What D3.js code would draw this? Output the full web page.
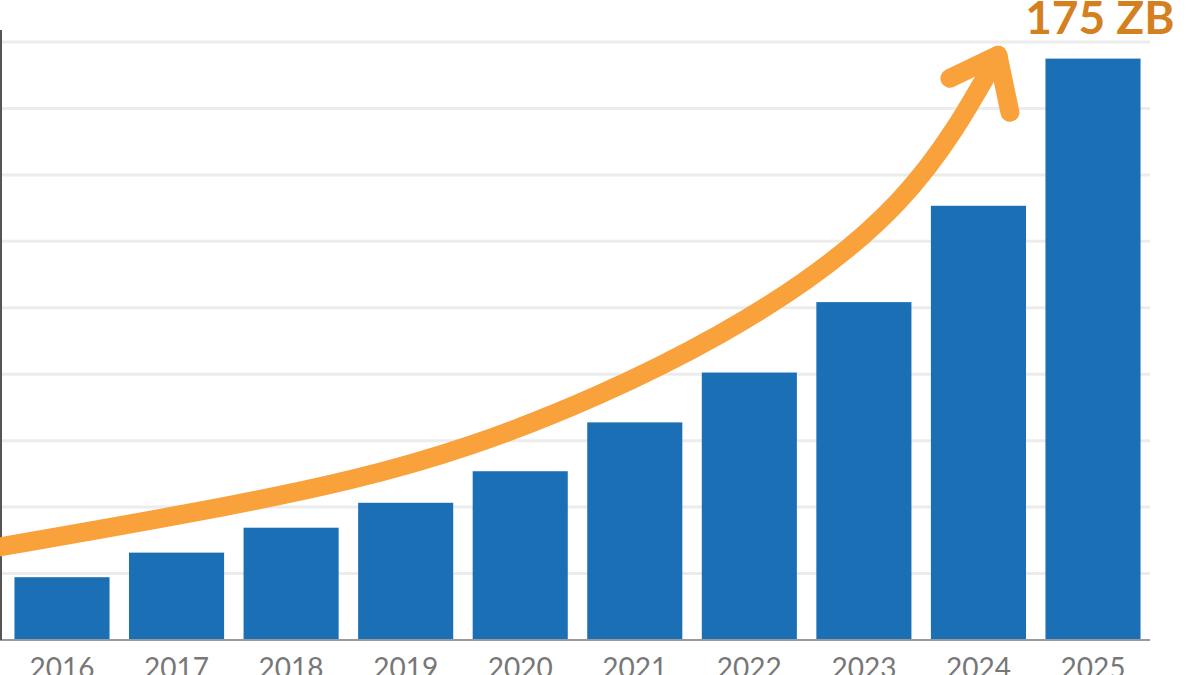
<!DOCTYPE html>
<html><head><meta charset="utf-8">
<script src="https://cdn.jsdelivr.net/npm/d3@7"></script>
<style>body{margin:0;background:#fff}svg{display:block}</style>
</head><body>
<svg width="1200" height="675"></svg>
<script>
const years = ["2016","2017","2018","2019","2020","2021","2022","2023","2024","2025"];
const zettabytes = [18.9, 26.3, 33.8, 41.3, 50.8, 65.5, 80.5, 101.7, 130.7, 175];
const gridTicks = [0, 20, 40, 60, 80, 100, 120, 140, 160, 180];
const topLabel = "175 ZB";
// arrow path in data space: [band position from first bar centre, value]
const arrowPath = [[-0.55, 28], [1.48, 40.6], [3.57, 58.7], [5.74, 92], [7.3, 132], [8.17, 176]];

let svg = d3.select('svg');

var x = d3.scaleBand().domain(years).range([3, 1152]).paddingInner(0.17).paddingOuter(0.1);
var y = d3.scaleLinear().domain([0, 180]).range([640, 42]);
var xPos = v => x(years[0]) + x.bandwidth() / 2 + v * x.step();

svg.append("g").selectAll("line")
    .data(gridTicks.slice(1))
    .enter().append("line")
    .attr("x1", 0).attr("x2", 1150)
    .attr("y1", d => y(d)).attr("y2", d => y(d))
    .attr("stroke", "#ececec").attr("stroke-width", 3)

svg.append("g").selectAll("rect")
    .data(zettabytes)
    .enter().append("rect")
    .attr("x", (d, i) => x(years[i]))
    .attr("y", d => y(d))
    .attr("width", x.bandwidth())
    .attr("height", d => y(0) - y(d))
    .attr("fill", "#1a6fb5")

svg.append("line").attr("x1", 0).attr("x2", 1150).attr("y1", y(0)).attr("y2", y(0))
    .attr("stroke", "#9a9a9a").attr("stroke-width", 2)
svg.append("line").attr("x1", 1).attr("x2", 1).attr("y1", 30).attr("y2", y(0))
    .attr("stroke", "#555").attr("stroke-width", 2)

var xAxis = svg.append("g").attr("transform", `translate(0,${y(0)})`)
    .call(d3.axisBottom(x).tickSize(0).tickPadding(18))
xAxis.select(".domain").remove()
xAxis.selectAll("text").attr("font-family", "Lato, sans-serif").attr("font-size", 28).attr("fill", "#777")

var lineFunction = d3.line()
    .x(d => xPos(d[0]))
    .y(d => y(d[1]))
    .curve(d3.curveNatural)

var orange = "#f9a13a";
svg.append("path").attr("d", lineFunction(arrowPath))
    .attr("fill", "none").attr("stroke", orange).attr("stroke-width", 19).attr("stroke-linecap", "round")

var tip = arrowPath[arrowPath.length - 1];
var tx = xPos(tip[0]), ty = y(tip[1]);
svg.append("polyline")
    .attr("points", `${tx-48},${ty+23} ${tx},${ty} ${tx+12},${ty+57}`)
    .attr("fill", "none").attr("stroke", orange).attr("stroke-width", 19)
    .attr("stroke-linecap", "round").attr("stroke-linejoin", "round")

svg.append("text").attr("x", x("2025") + x.bandwidth() + 34).attr("y", 34)
    .attr("text-anchor", "end")
    .attr("font-family", "Lato, sans-serif").attr("font-weight", "bold").attr("font-size", 46)
    .attr("fill", "#d4801f").text(topLabel)
</script>
</body></html>
